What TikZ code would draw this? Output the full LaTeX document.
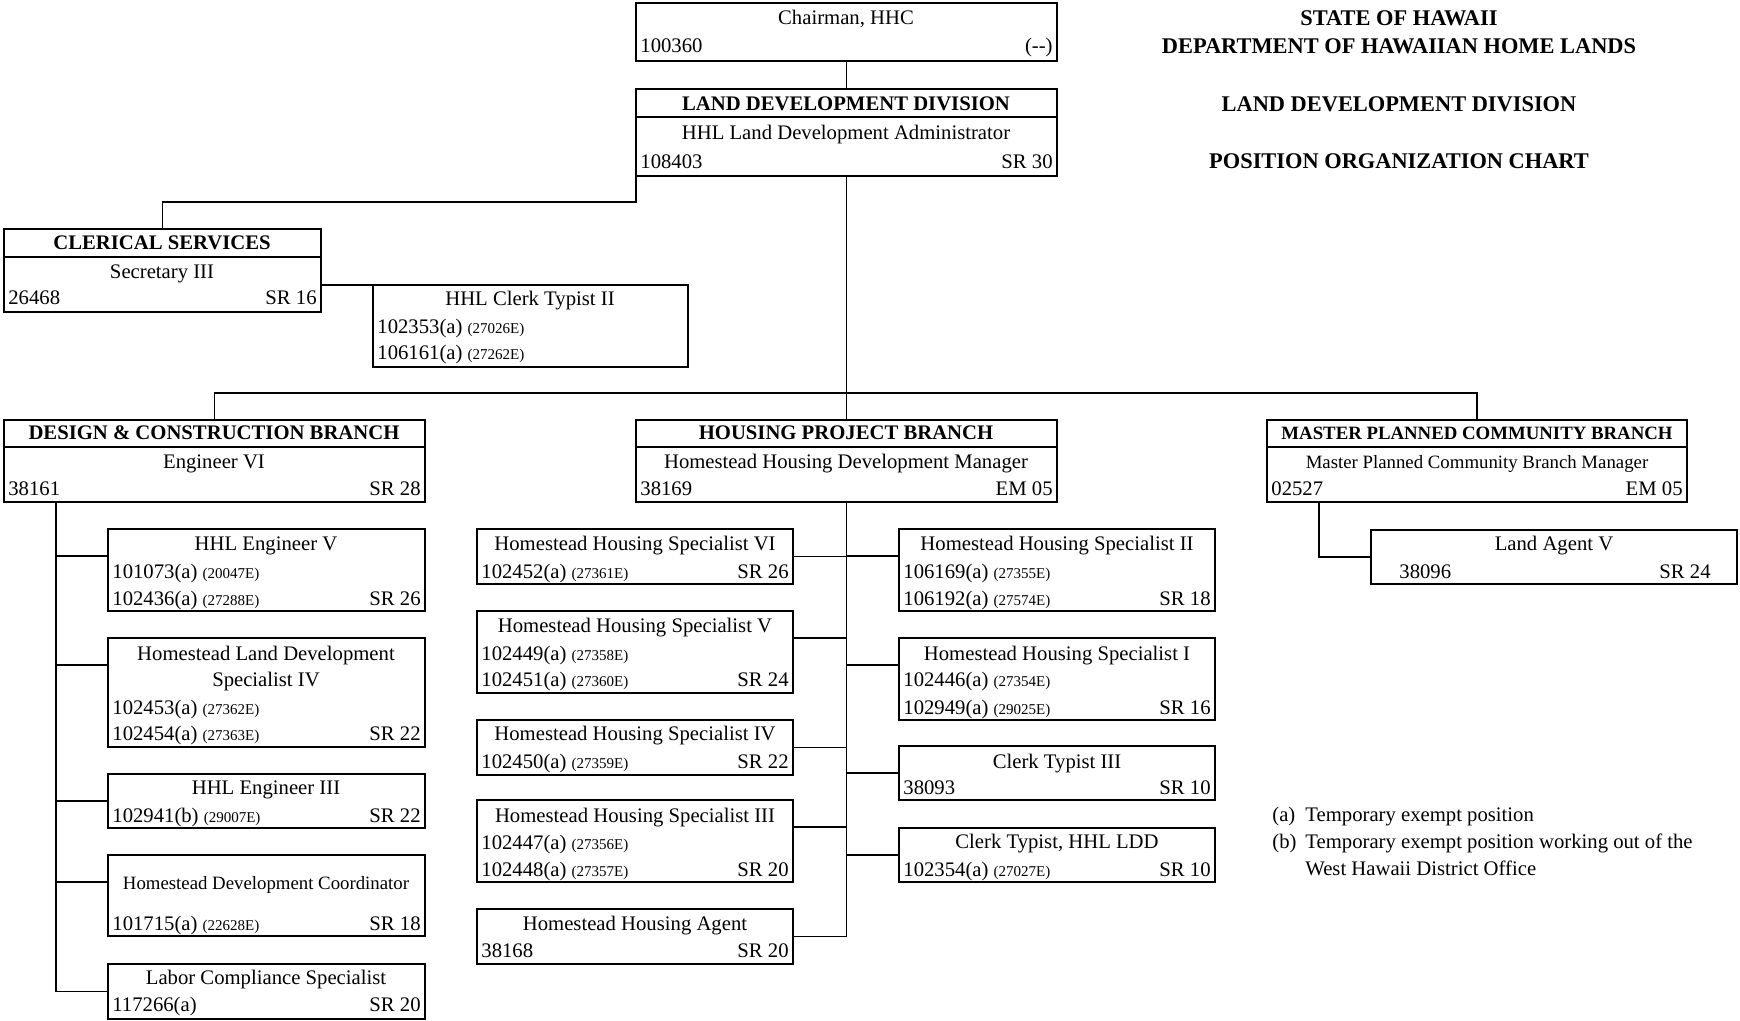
\documentclass[tikz,border=0pt]{standalone}
\usepackage{fontspec}
\setmainfont{Liberation Serif}
\usetikzlibrary{calc}
\newcommand\sm[1]{{\fontsize{7.5}{9}\selectfont #1}}
\newcommand\orgbox[5]{\node[pbox, minimum width={(#4-(#2))*0.5pt}, minimum height={(#5-(#3))*0.5pt}] (#1) at ({(#2+#4)/2},{(#3+#5)/2}) {};}
\tikzset{
  pbox/.style={draw, line width=0.9pt, inner sep=0pt, outer sep=0pt},
  conn/.style={line width=0.9pt},
  lbl/.style={inner sep=0pt, font=\fontsize{10.35}{12}\selectfont},
  tl/.style={lbl, anchor=base},
  lt/.style={lbl, anchor=base west},
  rt/.style={lbl, anchor=base east},
  hd/.style={inner sep=0pt, anchor=base, font=\fontsize{10.35}{12}\selectfont\bfseries},
  hdsm/.style={inner sep=0pt, anchor=base, font=\fontsize{9.4}{11}\selectfont\bfseries},
  tlsm/.style={inner sep=0pt, anchor=base, font=\fontsize{9.4}{11}\selectfont},
  ttl/.style={inner sep=0pt, anchor=base, font=\fontsize{11.2}{13}\selectfont\bfseries},
}
\begin{document}
\begin{tikzpicture}[x=0.5pt,y=-0.5pt]
\useasboundingbox (0,0) rectangle (1740,1021);

% ---------- boxes ----------
\orgbox{chair}{636}{3}{1057}{61}
\orgbox{ldd}{636}{89}{1057}{176}
\orgbox{cler}{4}{229}{321}{312}
\orgbox{ct2}{373}{285}{688}{367}
\orgbox{design}{4}{420}{425}{502}
\orgbox{housing}{636}{420}{1057}{502}
\orgbox{master}{1267}{420}{1687}{502}
\orgbox{landagent}{1371}{530}{1737}{584}
\orgbox{he5}{108}{529}{425}{611}
\orgbox{hlds}{108}{638}{425}{747}
\orgbox{he3}{108}{774}{425}{828}
\orgbox{hdc}{108}{855}{425}{936}
\orgbox{lcs}{108}{964}{425}{1019}
\orgbox{hs6}{477}{529}{793}{584}
\orgbox{hs5}{477}{611}{793}{693}
\orgbox{hs4}{477}{720}{793}{775}
\orgbox{hs3}{477}{800}{793}{882}
\orgbox{hha}{477}{909}{793}{964}
\orgbox{hs2}{899}{529}{1215}{611}
\orgbox{hs1}{899}{638}{1215}{720}
\orgbox{ct3}{899}{746}{1215}{800}
\orgbox{ctl}{899}{828}{1215}{882}

% header dividers
\draw[conn] ($(ldd.north west)+(0,28)$) -- ($(ldd.north east)+(0,28)$);
\draw[conn] ($(cler.north west)+(0,28)$) -- ($(cler.north east)+(0,28)$);
\draw[conn] ($(design.north west)+(0,27)$) -- ($(design.north east)+(0,27)$);
\draw[conn] ($(housing.north west)+(0,27)$) -- ($(housing.north east)+(0,27)$);
\draw[conn] ($(master.north west)+(0,27)$) -- ($(master.north east)+(0,27)$);

% ---------- connectors ----------
\draw[conn] (chair.south) -- (ldd.north);
\coordinate (clturn) at ($(ldd.south west)+(0,26)$);
\draw[conn] (ldd.south west) -- (clturn) -| (cler.north);
\draw[conn] (ct2.north west) -- (ct2.north west -| cler.east);
\coordinate (br) at ($(housing.north)+(0,-27)$);
\draw[conn] (ldd.south) -- (housing.north);
\draw[conn] (design.north) |- (br) -| (master.north);

\coordinate (dtop) at ($(design.south west)+(52,0)$);
\draw[conn] (dtop) |- (lcs.west);
\draw[conn] (dtop |- 0,556) -- ($(he5.north west)+(0,27)$);
\draw[conn] (dtop |- 0,665) -- ($(hlds.north west)+(0,27)$);
\draw[conn] (dtop |- he3.west) -- (he3.west);
\draw[conn] (dtop |- 0,882) -- ($(hdc.north west)+(0,27)$);

\coordinate (htop) at (housing.south);
\draw[conn] (htop) |- (hha.east);
\draw[conn] (hs6.east) -- (htop |- hs6.east);
\draw[conn] ($(hs5.north east)+(0,27)$) -- (htop |- 0,638);
\draw[conn] (hs4.east) -- (htop |- hs4.east);
\draw[conn] ($(hs3.north east)+(0,27)$) -- (htop |- 0,827);
\draw[conn] (htop |- 0,556) -- ($(hs2.north west)+(0,27)$);
\draw[conn] (htop |- 0,665) -- ($(hs1.north west)+(0,27)$);
\draw[conn] (htop |- ct3.west) -- (ct3.west);
\draw[conn] (htop |- ctl.west) -- (ctl.west);

\coordinate (mtop) at ($(master.south west)+(52,0)$);
\draw[conn] (mtop) |- (landagent.west);

% ---------- texts ----------
\node[tl] (chair-t) at (846,25) {Chairman, HHC};
\node[lt] (chair-n) at (640,53) {100360};
\node[rt] (chair-g) at (1053,53) {(-{}-)};

\node[hd] (ldd-h) at (846,111) {LAND DEVELOPMENT DIVISION};
\node[tl] (ldd-t) at (846,140) {HHL Land Development Administrator};
\node[lt] (ldd-n) at (640,169) {108403};
\node[rt] (ldd-g) at (1053,169) {SR 30};

\node[hd] (cler-h) at (162,250) {CLERICAL SERVICES};
\node[tl] (cler-t) at (162,279) {Secretary III};
\node[lt] (cler-n) at (8,305) {26468};
\node[rt] (cler-g) at (317,305) {SR 16};

\node[tl] (ct2-t) at (530,306) {HHL Clerk Typist II};
\node[lt] (ct2-a) at (377,334) {102353(a) \sm{(27026E)}};
\node[lt] (ct2-b) at (377,360) {106161(a) \sm{(27262E)}};

\node[hd] (design-h) at (214,440) {DESIGN \& CONSTRUCTION BRANCH};
\node[tl] (design-t) at (214,468) {Engineer VI};
\node[lt] (design-n) at (8,495) {38161};
\node[rt] (design-g) at (421,495) {SR 28};

\node[hd] (housing-h) at (846,440) {HOUSING PROJECT BRANCH};
\node[tl] (housing-t) at (846,468) {Homestead Housing Development Manager};
\node[lt] (housing-n) at (640,495) {38169};
\node[rt] (housing-g) at (1053,495) {EM 05};

\node[hdsm] (master-h) at (1477,440) {MASTER PLANNED COMMUNITY BRANCH};
\node[tlsm] (master-t) at (1477,468) {Master Planned Community Branch Manager};
\node[lt] (master-n) at (1271,495) {02527};
\node[rt] (master-g) at (1683,495) {EM 05};

\node[tl] (la-t) at (1554,550) {Land Agent V};
\node[lt] (la-n) at (1399,578) {38096};
\node[rt] (la-g) at (1711,578) {SR 24};

\node[tl] (he5-t) at (266,550) {HHL Engineer V};
\node[lt] (he5-a) at (112,578) {101073(a) \sm{(20047E)}};
\node[lt] (he5-b) at (112,605) {102436(a) \sm{(27288E)}};
\node[rt] (he5-g) at (421,605) {SR 26};

\node[tl] (hlds-t1) at (266,660) {Homestead Land Development};
\node[tl] (hlds-t2) at (266,686) {Specialist IV};
\node[lt] (hlds-a) at (112,714) {102453(a) \sm{(27362E)}};
\node[lt] (hlds-b) at (112,740) {102454(a) \sm{(27363E)}};
\node[rt] (hlds-g) at (421,740) {SR 22};

\node[tl] (he3-t) at (266,794) {HHL Engineer III};
\node[lt] (he3-a) at (112,822) {102941(b) \sm{(29007E)}};
\node[rt] (he3-g) at (421,822) {SR 22};

\node[tlsm] (hdc-t) at (266,889) {Homestead Development Coordinator};
\node[lt] (hdc-a) at (112,930) {101715(a) \sm{(22628E)}};
\node[rt] (hdc-g) at (421,930) {SR 18};

\node[tl] (lcs-t) at (266,984) {Labor Compliance Specialist};
\node[lt] (lcs-a) at (112,1011) {117266(a)};
\node[rt] (lcs-g) at (421,1011) {SR 20};

\node[tl] (hs6-t) at (635,550) {Homestead Housing Specialist VI};
\node[lt] (hs6-a) at (481,578) {102452(a) \sm{(27361E)}};
\node[rt] (hs6-g) at (789,578) {SR 26};

\node[tl] (hs5-t) at (635,632) {Homestead Housing Specialist V};
\node[lt] (hs5-a) at (481,660) {102449(a) \sm{(27358E)}};
\node[lt] (hs5-b) at (481,686) {102451(a) \sm{(27360E)}};
\node[rt] (hs5-g) at (789,686) {SR 24};

\node[tl] (hs4-t) at (635,740) {Homestead Housing Specialist IV};
\node[lt] (hs4-a) at (481,768) {102450(a) \sm{(27359E)}};
\node[rt] (hs4-g) at (789,768) {SR 22};

\node[tl] (hs3-t) at (635,822) {Homestead Housing Specialist III};
\node[lt] (hs3-a) at (481,849) {102447(a) \sm{(27356E)}};
\node[lt] (hs3-b) at (481,876) {102448(a) \sm{(27357E)}};
\node[rt] (hs3-g) at (789,876) {SR 20};

\node[tl] (hha-t) at (635,930) {Homestead Housing Agent};
\node[lt] (hha-n) at (481,957) {38168};
\node[rt] (hha-g) at (789,957) {SR 20};

\node[tl] (hs2-t) at (1057,550) {Homestead Housing Specialist II};
\node[lt] (hs2-a) at (903,578) {106169(a) \sm{(27355E)}};
\node[lt] (hs2-b) at (903,605) {106192(a) \sm{(27574E)}};
\node[rt] (hs2-g) at (1211,605) {SR 18};

\node[tl] (hs1-t) at (1057,660) {Homestead Housing Specialist I};
\node[lt] (hs1-a) at (903,686) {102446(a) \sm{(27354E)}};
\node[lt] (hs1-b) at (903,714) {102949(a) \sm{(29025E)}};
\node[rt] (hs1-g) at (1211,714) {SR 16};

\node[tl] (ct3-t) at (1057,768) {Clerk Typist III};
\node[lt] (ct3-n) at (903,794) {38093};
\node[rt] (ct3-g) at (1211,794) {SR 10};

\node[tl] (ctl-t) at (1057,848) {Clerk Typist, HHL LDD};
\node[lt] (ctl-a) at (903,876) {102354(a) \sm{(27027E)}};
\node[rt] (ctl-g) at (1211,876) {SR 10};

% ---------- title ----------
\node[ttl] (title1) at (1399,25.5) {STATE OF HAWAII};
\node[ttl] (title2) at (1399,53.5) {DEPARTMENT OF HAWAIIAN HOME LANDS};
\node[ttl] (title3) at (1399,111.5) {LAND DEVELOPMENT DIVISION};
\node[ttl] (title4) at (1399,168.5) {POSITION ORGANIZATION CHART};

% ---------- notes ----------
\node[lt] (note-a) at (1272,821) {(a)};
\node[lt] (note-at) at (1305,821) {Temporary exempt position};
\node[lt] (note-b) at (1272,848) {(b)};
\node[lt] (note-bt) at (1305,848) {Temporary exempt position working out of the};
\node[lt] (note-bt2) at (1305,875) {West Hawaii District Office};
\end{tikzpicture}
\end{document}
